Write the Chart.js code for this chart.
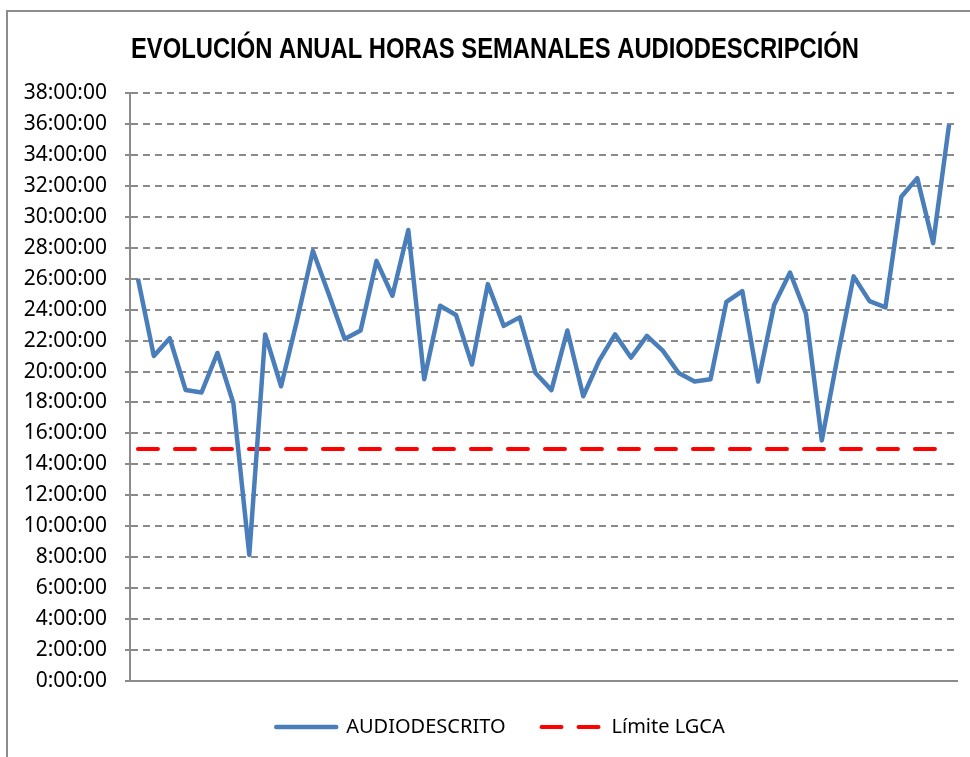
<!DOCTYPE html>
<html>
<head>
<meta charset="utf-8">
<script src="https://cdn.jsdelivr.net/npm/chart.js@4/dist/chart.umd.min.js"></script>
<style>
  body { margin: 0; overflow: hidden; background: #fff; }
  #frame { position: absolute; left: 6px; top: 10px; width: 1000px; height: 800px; border: 2px solid #8c8c8c; }
  #chart { position: absolute; left: 0; top: 0; }
</style>
</head>
<body>
<div id="frame"></div>
<canvas id="chart" width="970" height="757"></canvas>
<script>
const titleText = "EVOLUCIÓN ANUAL HORAS SEMANALES AUDIODESCRIPCIÓN";

// weeks of the year (not shown on the axis)
const weeks = [];
for (let i = 1; i <= 52; i++) weeks.push("Semana " + i);

// weekly hours of audio description
const audiodescrito = [
  26.0, 21.0, 22.15, 18.8, 18.65, 21.2, 17.95, 8.15, 22.4, 19.05,
  23.3, 27.8, 25.0, 22.1, 22.65, 27.15, 24.9, 29.15, 19.5, 24.25,
  23.65, 20.45, 25.65, 22.95, 23.5, 19.9, 18.8, 22.65, 18.4, 20.7,
  22.4, 20.9, 22.3, 21.35, 19.9, 19.35, 19.5, 24.5, 25.2, 19.35,
  24.3, 26.4, 23.75, 15.55, 21.0, 26.15, 24.55, 24.15, 31.3, 32.5,
  28.3, 35.95
];

// legal minimum (LGCA), 15 hours a week
const limite = weeks.map(() => 15);

const yMax = 38;
const yStep = 2;

const fmtHours = v => v + ":00:00";

/* narrow bold title, like Arial Narrow in the original */
const narrowTitle = {
  id: "narrowTitle",
  afterDraw(c) {
    const ctx = c.ctx;
    ctx.save();
    ctx.font = "bold 29px 'Liberation Sans', Arial, sans-serif";
    ctx.fillStyle = "#000";
    ctx.textAlign = "center";
    ctx.textBaseline = "middle";
    ctx.translate(495, 50);
    ctx.scale(0.82, 1);
    ctx.fillText(titleText, 0, 0);
    ctx.restore();
  }
};

new Chart(chart, {
  type: "line",
  data: {
    labels: weeks,
    datasets: [
      {
        label: "AUDIODESCRITO",
        data: audiodescrito,
        borderColor: "#4a7ebb",
        backgroundColor: "#4a7ebb",
        borderWidth: 4.5,
        borderJoinStyle: "round",
        pointRadius: 0,
        tension: 0
      },
      {
        label: "Límite LGCA",
        data: limite,
        borderColor: "#ff0000",
        backgroundColor: "#ff0000",
        borderWidth: 4,
        borderDash: [20, 17],
        borderCapStyle: "round",
        pointRadius: 0
      }
    ]
  },
  plugins: [narrowTitle],
  options: {
    responsive: false,
    animation: false,
    layout: { padding: { left: 44, right: 13, top: 93, bottom: 10 } },
    plugins: {
      title: { display: false },
      legend: {
        position: "bottom",
        labels: {
          usePointStyle: true,
          pointStyle: "line",
          pointStyleWidth: 60,
          padding: 36,
          color: "#000",
          font: { family: "'Noto Sans', sans-serif", size: 20 },
          generateLabels: c => c.data.datasets.map((d, i) => ({
            text: d.label,
            datasetIndex: i,
            strokeStyle: d.borderColor,
            fillStyle: d.borderColor,
            fontColor: "#000",
            lineWidth: d.borderWidth,
            lineDash: d.borderDash || [],
            lineCap: "round",
            pointStyle: "line",
            hidden: false
          }))
        }
      },
      tooltip: { enabled: false }
    },
    scales: {
      x: {
        offset: true,
        ticks: { display: false },
        grid: { display: false, drawTicks: false },
        border: { display: true, color: "#8c8c8c", width: 2 },
        afterFit: s => { s.height = 0; }
      },
      y: {
        min: 0,
        max: yMax,
        ticks: {
          stepSize: yStep,
          padding: 18,
          color: "#000",
          font: { family: "'Noto Sans', sans-serif", size: 21 },
          callback: v => fmtHours(v)
        },
        grid: {
          color: "#8a8a8a",
          lineWidth: 2,
          tickLength: 5,
          tickColor: "#8a8a8a",
          tickBorderDash: []
        },
        border: { display: true, color: "#8c8c8c", width: 2, dash: [7, 5] },
        afterFit: s => { s.width = 86; },
        // labels hang out left of the axis box, don't clip them
        afterUpdate: s => { s._computeLabelArea = () => undefined; }
      }
    }
  }
});
</script>
</body>
</html>
